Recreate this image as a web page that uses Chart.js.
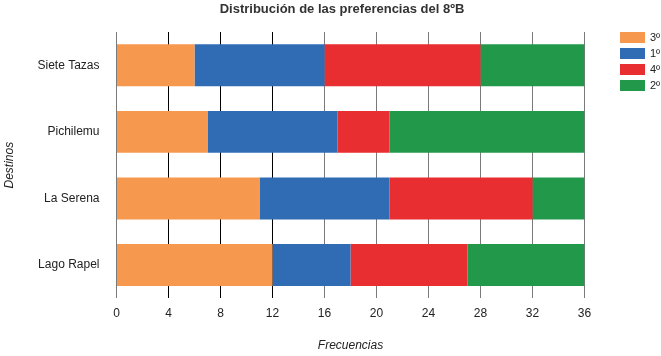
<!DOCTYPE html>
<html>
<head>
<meta charset="utf-8">
<script src="https://cdn.jsdelivr.net/npm/chart.js@4/dist/chart.umd.min.js"></script>
<style>
  html, body { margin: 0; padding: 0; background: #fff; }
  canvas { display: block; }
</style>
</head>
<body>
<canvas id="c" width="661" height="356"></canvas>
<script>
const TITLE = 'Distribución de las preferencias del 8ºB';
const categories = ['Siete Tazas', 'Pichilemu', 'La Serena', 'Lago Rapel'];
const seriesLabels = ['3º', '1º', '4º', '2º'];
const values3 = [6, 7, 11, 12];
const values1 = [10, 10, 10, 6];
const values4 = [12, 4, 11, 9];
const values2 = [8, 15, 4, 9];
const colors = ['#F7984F', '#306CB4', '#E82E30', '#22994A'];
const xTicksMax = 36;
const xTickStep = 4;

const FONT = '"Liberation Sans", Arial, sans-serif';
const CHART_LEFT = 116.5;
const CHART_RIGHT = 584.5;
const CHART_TOP = 32;
const CHART_BOTTOM = 298.3;

const overlay = {
  id: 'overlay',
  afterDraw(chart) {
    const ctx = chart.ctx;
    ctx.save();
    ctx.font = 'bold 13px ' + FONT;
    ctx.fillStyle = '#333';
    ctx.textAlign = 'center';
    ctx.textBaseline = 'middle';
    ctx.fillText(TITLE, 342, 9);
    chart.data.datasets.forEach((ds, i) => {
      const y = 32 + i * 16;
      ctx.fillStyle = ds.backgroundColor;
      ctx.fillRect(620, y, 25, 11);
      ctx.fillStyle = '#222';
      ctx.font = '11px ' + FONT;
      ctx.textAlign = 'left';
      ctx.textBaseline = 'middle';
      ctx.fillText(ds.label, 650, y + 6);
    });
    ctx.restore();
  }
};

const allValues = [values3, values1, values4, values2];

new Chart(document.getElementById('c'), {
  type: 'bar',
  data: {
    labels: categories,
    datasets: seriesLabels.map((lab, i) => ({
      label: lab,
      data: allValues[i],
      backgroundColor: colors[i],
      borderWidth: 0,
      barPercentage: 0.63,
      categoryPercentage: 1
    }))
  },
  options: {
    indexAxis: 'y',
    responsive: false,
    animation: false,
    devicePixelRatio: 1,
    layout: { padding: { left: 0, right: 661 - CHART_RIGHT, top: CHART_TOP, bottom: 0 } },
    plugins: {
      legend: { display: false },
      title: { display: false },
      tooltip: { enabled: false }
    },
    scales: {
      x: {
        stacked: true,
        min: 0,
        max: xTicksMax,
        z: 1,
        border: { display: false },
        grid: {
          drawTicks: false,
          lineWidth: 1,
          color: (c) => (c.tick && [4, 8, 12].includes(c.tick.value)) ? '#000' : '#7a7a7a'
        },
        ticks: {
          stepSize: xTickStep,
          padding: 8,
          color: '#222',
          font: { family: FONT, size: 12 },
          maxRotation: 0
        },
        title: {
          display: true,
          text: 'Frecuencias',
          color: '#222',
          font: { family: FONT, size: 12, style: 'italic' },
          padding: { top: 0, bottom: 3 }
        },
        afterFit: (s) => { s.height = 356 - CHART_BOTTOM; }
      },
      y: {
        stacked: true,
        grid: { display: false, drawTicks: false },
        border: { display: false },
        ticks: {
          padding: 17,
          color: '#222',
          font: { family: FONT, size: 12 }
        },
        title: {
          display: true,
          text: 'Destinos',
          color: '#222',
          font: { family: FONT, size: 12, style: 'italic' },
          padding: { top: 2.3, bottom: 0 }
        },
        afterFit: (s) => { s.width = CHART_LEFT; }
      }
    }
  },
  plugins: [overlay]
});
</script>
</body>
</html>
